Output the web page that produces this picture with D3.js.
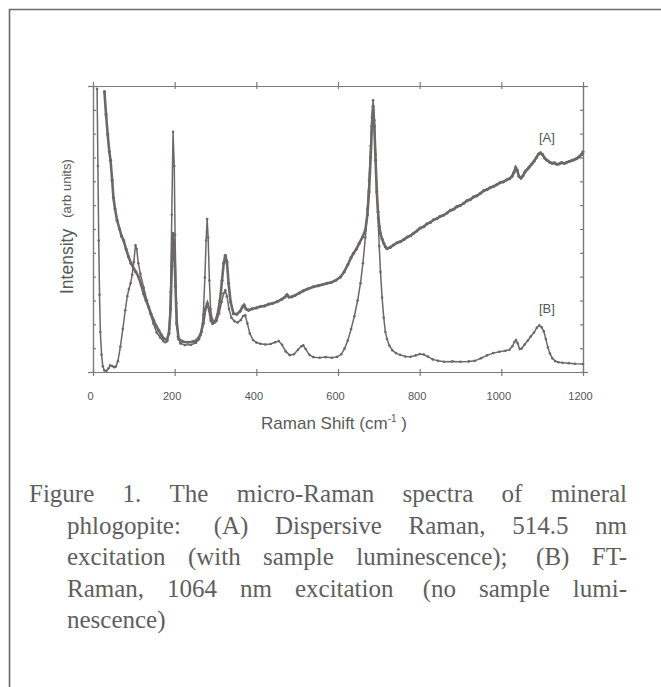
<!DOCTYPE html>
<html>
<head>
<meta charset="utf-8">
<script src="https://cdn.jsdelivr.net/npm/d3@7"></script>
<style>
  body { margin: 0; background: #fff; }
</style>
</head>
<body>
<div id="container"></div>
<script>
let w = 661;
let h = 687;

// x tick labels of the raman shift axis
let xTicks = [0, 200, 400, 600, 800, 1000, 1200];

// [A] dispersive raman, 514.5 nm (shift in cm-1, intensity in arb units)
let seriesA = [
  [28, 98], [32, 90], [36, 83], [40, 77], [43, 74], [47, 67], [50, 61], [54, 57], [59, 53], [65, 50],
  [70, 47.5], [75, 46], [81, 43], [87, 40.3], [93, 38], [99.5, 36.2], [105, 35], [111.7, 33.3], [118, 30.5],
  [124, 27.4], [130, 25], [136, 22.8], [142, 20.3], [148.4, 18.1], [155, 16], [160.7, 14.6], [167, 13],
  [173, 11.7], [181, 11.3], [186, 13.5], [190, 22], [193, 37], [196, 48.5], [199, 44], [202, 30], [205, 17],
  [210, 11.5], [220, 10.6], [232, 10.4], [245, 10.6], [255, 11.2], [263, 13], [270, 17], [275, 22], [280, 24],
  [285, 21.5], [289, 18], [293, 17], [299, 17.6], [305, 20], [311, 25], [316, 32], [320, 38], [324, 40.8],
  [328, 38.5], [332, 31], [337, 24.5], [344, 20.4], [352, 20.2], [360, 21.2], [366, 22.8], [370, 23.4],
  [375, 22], [381, 21.6], [390, 22.1], [400, 22.4], [410, 22.9], [420, 23.1], [430, 23.7], [440, 24],
  [451, 24.6], [462, 25.4], [470, 26.2], [475, 27], [480, 26.2], [487, 26.3], [495, 26.8], [505, 27.6],
  [515, 28.4], [527, 29.1], [540, 29.8], [552, 30.2], [563, 30.6], [573, 31], [583, 31.3], [594, 32],
  [606, 33.2], [615, 35], [624, 37.5], [632, 40], [638, 41.5], [645, 43], [652, 45], [660, 47.2], [667, 49.6],
  [672, 55], [676, 63], [680, 75], [683, 86], [686, 93], [689, 86], [692, 74], [695, 63], [698, 56], [701, 51],
  [704, 48.4], [708, 46.5], [712, 45], [716, 43.8], [720, 43.1], [728, 43.6], [736, 44.4], [745, 45.2],
  [753, 45.6], [762, 46.4], [770, 47.2], [778, 47.7], [785, 48.5], [793, 49.3], [801, 50.3], [810, 50.8],
  [818, 51.8], [826, 52.3], [834, 53.2], [842, 53.6], [850, 54.4], [858, 54.8], [867, 55.6], [875, 56.5],
  [883, 56.9], [891, 57.8], [899, 58.2], [908, 59], [916, 59.9], [924, 60.3], [932, 61.2], [940, 61.6],
  [949, 62.5], [957, 63.4], [965, 63.8], [973, 64.5], [981, 64.9], [989, 65.5], [997, 66.2], [1005, 66.5],
  [1013, 67.2], [1020, 67.6], [1026, 68.4], [1031, 69.8], [1035, 71.5], [1039, 70.5], [1043, 68.4],
  [1048, 67.8], [1053, 68.6], [1058, 70], [1063, 70.8], [1068, 71.6], [1074, 72.6], [1080, 73.7], [1086, 75],
  [1091, 76.2], [1096, 76.6], [1101, 76], [1106, 74.8], [1112, 74], [1118, 73.4], [1124, 73], [1130, 73.1],
  [1136, 72.6], [1142, 72.8], [1148, 73.2], [1154, 72.9], [1160, 73.3], [1166, 73.6], [1172, 73.9],
  [1178, 74.2], [1184, 74.6], [1190, 75.2], [1196, 76], [1200, 77]
];

// [B] FT-raman, 1064 nm
let seriesB = [
  [10, 99], [12, 72], [14, 46], [16, 27], [18, 14], [21, 6], [24, 2], [28, 0.5], [33, 0.4], [38, 1.3],
  [42, 2.3], [47, 2.1], [52, 1.7], [56, 1.9], [61, 3.8], [67, 8.8], [73, 15], [79, 21.6], [84, 26.5],
  [88, 29], [92, 31], [96, 34], [100, 38.5], [104, 44.3], [107, 43], [111, 38], [116, 34.4], [124, 29.5],
  [132, 25.1], [140, 20.6], [148, 16.9], [156, 13.8], [165, 12], [172, 10.8], [177, 10.4], [182, 10.8],
  [187, 15], [190, 28], [193, 55], [196, 84], [199, 72], [201, 48], [204, 24], [208, 12.5], [214, 10],
  [225, 9.4], [240, 9.5], [252, 10.2], [260, 11.5], [266, 14], [270, 20], [274, 33], [277, 46], [279.5, 53.5],
  [282, 47], [285, 32], [288, 22], [292, 18.5], [297, 17.2], [303, 18], [309, 20.5], [315, 24.5], [320, 27.5],
  [324, 28.6], [328, 26.5], [333, 22], [339, 19], [346, 17.8], [354, 17.3], [362, 18.2], [368, 19.6],
  [373, 19.8], [378, 17], [384, 13.5], [392, 11.2], [400, 10.3], [410, 9.9], [422, 9.6], [435, 9.8],
  [446, 10.4], [455, 10.8], [463, 9.5], [472, 7.2], [482, 5.9], [492, 6.2], [502, 7.8], [510, 9], [515, 9.3],
  [521, 8], [530, 6], [540, 5.2], [555, 5], [570, 5.2], [585, 5], [598, 5.3], [608, 6.2], [616, 8.2],
  [624, 11], [632, 15], [640, 19.5], [648, 25], [655, 31], [661, 38], [667, 47], [672, 57], [676, 67],
  [680, 79], [683, 89], [686, 95], [689, 88], [692, 76], [695, 64], [698, 54], [701, 44], [704, 35],
  [708, 26], [712, 19], [716, 14], [720, 11.5], [726, 9.2], [733, 7.6], [742, 6.6], [752, 6], [765, 5.4],
  [778, 5.3], [790, 5.8], [800, 6.3], [810, 6.1], [820, 5.4], [832, 4.4], [845, 3.9], [860, 3.6], [880, 3.7],
  [900, 3.6], [920, 3.7], [935, 3.9], [950, 4.8], [965, 5.8], [980, 6.6], [995, 7.1], [1010, 7.4],
  [1020, 7.8], [1027, 9], [1032, 10.5], [1036, 11.2], [1040, 10], [1045, 8], [1050, 8.2], [1057, 9.6],
  [1065, 11], [1072, 12.4], [1080, 13.8], [1087, 15.5], [1093, 16.3], [1099, 15.6], [1104, 14.2],
  [1109, 11.5], [1114, 8.6], [1119, 6.5], [1125, 4.8], [1132, 3.8], [1140, 3.4], [1150, 3.2], [1165, 3.1],
  [1180, 2.9], [1200, 2.8]
];

// caption lines, all justified except the last one
let captionLines = [
  "Figure 1. The micro-Raman spectra of mineral",
  "phlogopite:  (A) Dispersive Raman, 514.5 nm",
  "excitation (with sample luminescence);  (B) FT-",
  "Raman, 1064 nm excitation  (no sample lumi-",
  "nescence)"
];

let lineColor = "#6d6868";
let axisColor = "#7a7a7a";
let sans = "'Liberation Sans', Arial, sans-serif";

let viz = d3.select("#container")
  .append("svg")
    .attr("width", w)
    .attr("height", h)
    .style("background-color", "#fff");

// frame of the scanned page
viz.append("path")
  .attr("d", "M9.5," + h + " V9.5 H" + w)
  .attr("fill", "none")
  .attr("stroke", "#6a6a6a")
  .attr("stroke-width", 1.6);

// plot area
let pLeft = 93, pRight = 583, pTop = 86, pBottom = 372;

let xScale = d3.scaleLinear().domain([0, 1200]).range([pLeft, pRight]);
let yScale = d3.scaleLinear().domain([0, 100]).range([pBottom, pTop]);

let yTickVals = d3.range(0, 13).map(function(i){ return i * 100 / 12; });

function styleAxis(g){
  g.selectAll("path, line").attr("stroke", axisColor).attr("stroke-width", 1.2);
  g.selectAll("text").remove();
}

// bottom axis: ticks cross the line
let xBottom = viz.append("g")
  .attr("transform", "translate(0," + pBottom + ")")
  .call(d3.axisBottom(xScale).tickValues(xTicks).tickFormat(d3.format("d")).tickSize(4).tickSizeOuter(0));
xBottom.selectAll("path, line").attr("stroke", axisColor).attr("stroke-width", 1.2);
xBottom.selectAll("text")
  .attr("y", 20)
  .attr("dx", -3)
  .attr("fill", "#555")
  .style("font-family", sans)
  .style("font-size", "11px");
viz.append("g")
  .attr("transform", "translate(0," + pBottom + ")")
  .call(d3.axisTop(xScale).tickValues(xTicks).tickSize(3).tickSizeOuter(0))
  .call(styleAxis);

// top axis
viz.append("g")
  .attr("transform", "translate(0," + pTop + ")")
  .call(d3.axisTop(xScale).tickValues(xTicks).tickSize(4).tickSizeOuter(0))
  .call(styleAxis);
viz.append("g")
  .attr("transform", "translate(0," + pTop + ")")
  .call(d3.axisBottom(xScale).tickValues(xTicks).tickSize(3).tickSizeOuter(0))
  .call(styleAxis);

// left and right axes, small ticks pointing inward
viz.append("g")
  .attr("transform", "translate(" + pLeft + ",0)")
  .call(d3.axisRight(yScale).tickValues(yTickVals).tickSize(3).tickSizeOuter(0))
  .call(styleAxis);
viz.append("g")
  .attr("transform", "translate(" + pLeft + ",0)")
  .call(d3.axisLeft(yScale).tickValues([0, 100]).tickSize(5).tickSizeOuter(0))
  .call(styleAxis);
viz.append("g")
  .attr("transform", "translate(" + pRight + ",0)")
  .call(d3.axisLeft(yScale).tickValues(yTickVals).tickSize(3).tickSizeOuter(0))
  .call(styleAxis);
viz.append("g")
  .attr("transform", "translate(" + pRight + ",0)")
  .call(d3.axisRight(yScale).tickValues([0, 100]).tickSize(5).tickSizeOuter(0))
  .call(styleAxis);

// axis titles
viz.append("text")
  .attr("transform", "translate(73,294) rotate(-90)")
  .attr("fill", "#5a5a5a")
  .style("font-family", sans)
  .style("font-size", "17.5px")
  .text("Intensity")
  .append("tspan")
    .attr("dx", 11)
    .attr("dy", -2)
    .style("font-size", "13px")
    .text("(arb units)");

let xTitle = viz.append("text")
  .attr("x", 334)
  .attr("y", 429)
  .attr("text-anchor", "middle")
  .attr("fill", "#5a5a5a")
  .style("font-family", sans)
  .style("font-size", "17px")
  .text("Raman Shift (cm");
xTitle.append("tspan").attr("dy", -7).style("font-size", "10px").text("-1");
xTitle.append("tspan").attr("dy", 7).text(" )");

// the two spectra
let line = d3.line()
  .x(function(d){ return xScale(d[0]); })
  .y(function(d){ return yScale(d[1]); });

let vizgroup = viz.append("g").attr("class", "vizgroup");

vizgroup.append("path")
  .datum(seriesB)
  .attr("d", line)
  .attr("fill", "none")
  .attr("stroke", lineColor)
  .attr("stroke-width", 1.5);

vizgroup.append("path")
  .datum(seriesA)
  .attr("d", line)
  .attr("fill", "none")
  .attr("stroke", lineColor)
  .attr("stroke-width", 2.6);

// small point markers along both traces
vizgroup.selectAll(".dotB").data(seriesB).enter()
  .append("circle")
    .attr("class", "dotB")
    .attr("cx", function(d){ return xScale(d[0]); })
    .attr("cy", function(d){ return yScale(d[1]); })
    .attr("r", 1.3)
    .attr("fill", lineColor);

vizgroup.selectAll(".dotA").data(seriesA).enter()
  .append("circle")
    .attr("class", "dotA")
    .attr("cx", function(d){ return xScale(d[0]); })
    .attr("cy", function(d){ return yScale(d[1]); })
    .attr("r", 1.6)
    .attr("fill", lineColor);

// series labels
viz.append("text")
  .attr("x", 539).attr("y", 142)
  .attr("fill", "#555")
  .style("font-family", sans)
  .style("font-size", "13px")
  .text("[A]");
viz.append("text")
  .attr("x", 539).attr("y", 313)
  .attr("fill", "#555")
  .style("font-family", sans)
  .style("font-size", "13px")
  .text("[B]");

// caption, justified between the indent and 627
let capRight = 627;
let capFont = "25px";
let serif = "'Liberation Serif', 'Times New Roman', serif";

// helper text node used to measure words
let measurer = viz.append("text")
  .style("font-family", serif)
  .style("font-size", capFont)
  .style("white-space", "pre")
  .attr("visibility", "hidden");
function textWidth(s){
  measurer.text(s);
  return measurer.node().getComputedTextLength();
}
let spaceW = textWidth("a a") - textWidth("aa");

captionLines.forEach(function(str, i){
  let x0 = i == 0 ? 29 : 67;
  let y0 = 502 + i * 31.5;
  let t = viz.append("text")
    .attr("y", y0)
    .attr("fill", "#5e5e5e")
    .style("font-family", serif)
    .style("font-size", capFont);

  let parts = str.split(/( +)/);
  let words = [];
  let gaps = [];
  parts.forEach(function(p, k){
    if(k % 2 == 0){ words.push(p); } else { gaps.push(p.length * spaceW); }
  });
  let widths = words.map(textWidth);
  let extra = 0;
  if(i < captionLines.length - 1 && gaps.length > 0){
    let natural = d3.sum(widths) + d3.sum(gaps);
    extra = (capRight - x0 - natural) / gaps.length;
  }
  let x = x0;
  words.forEach(function(wd, k){
    t.append("tspan").attr("x", x).text(wd);
    x += widths[k];
    if(k < gaps.length){ x += gaps[k] + extra; }
  });
});
measurer.remove();
</script>
</body>
</html>
